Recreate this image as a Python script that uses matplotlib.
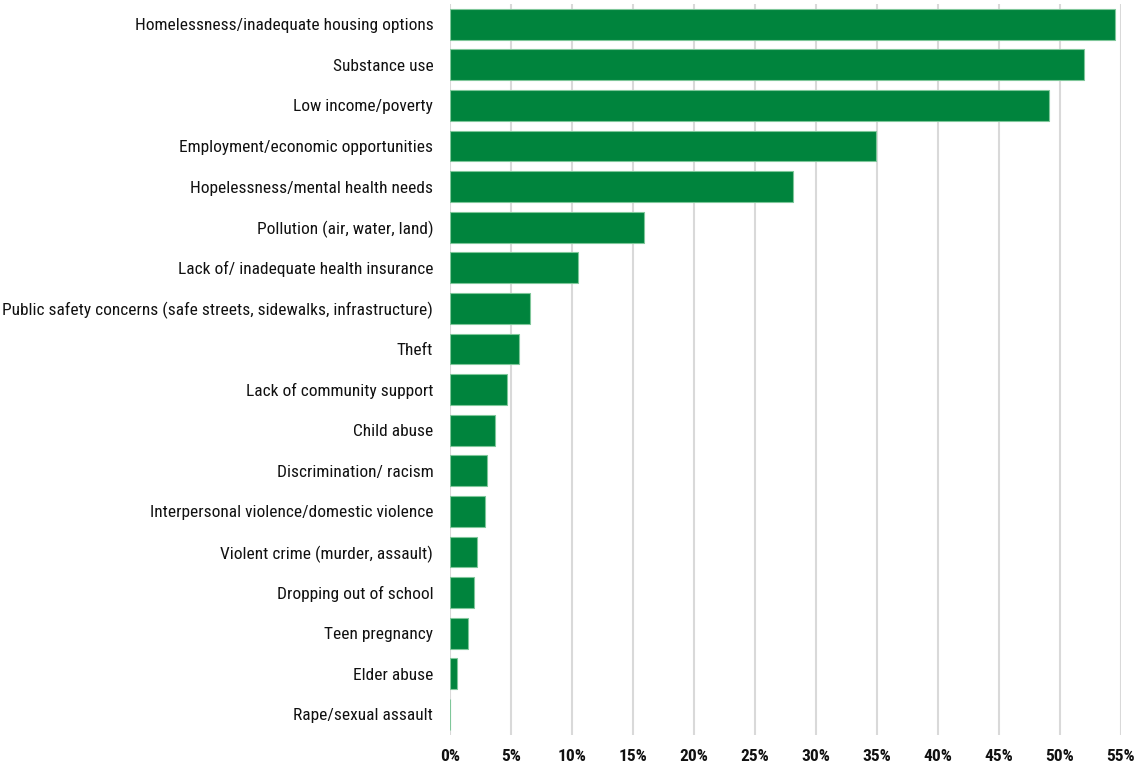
import numpy as np
import matplotlib.pyplot as plt

plt.rcParams['font.family'] = ['Roboto Condensed', 'DejaVu Sans']

categories = [
    "Homelessness/inadequate housing options",
    "Substance use",
    "Low income/poverty",
    "Employment/economic opportunities",
    "Hopelessness/mental health needs",
    "Pollution (air, water, land)",
    "Lack of/ inadequate health insurance",
    "Public safety concerns (safe streets, sidewalks, infrastructure)",
    "Theft",
    "Lack of community support",
    "Child abuse",
    "Discrimination/ racism",
    "Interpersonal violence/domestic violence",
    "Violent crime (murder, assault)",
    "Dropping out of school",
    "Teen pregnancy",
    "Elder abuse",
    "Rape/sexual assault",
]
percent = [54.5, 52.0, 49.1, 34.9, 28.1, 15.9, 10.5, 6.55, 5.7, 4.7,
           3.7, 3.05, 2.9, 2.2, 2.0, 1.45, 0.6, 0.0]
xticks = list(range(0, 60, 5))

fig = plt.figure(figsize=(11.4, 7.67), dpi=100)
ax = fig.add_axes([0.3947, 0.042, 0.5886, 0.953])

y = np.arange(len(categories))
ax.barh(y, percent, height=0.76, color='#00843D', edgecolor='#7fc79a', linewidth=0.8, zorder=3)

ax.set_yticks(y)
ax.set_yticklabels(categories, fontsize=12.5, fontweight='normal')
ax.set_ylim(len(categories) - 0.5, -0.5)

ax.set_xlim(0, 55)
ax.set_xticks(xticks)
ax.set_xticklabels([f"{t}%" for t in xticks], fontsize=12.5, fontweight='bold')
ax.grid(axis='x', color='#d9d9d9', linewidth=1.5, zorder=0)

for s in ax.spines.values():
    s.set_visible(False)
ax.tick_params(axis='both', length=0, colors='#111111')
ax.tick_params(axis='y', pad=12)
ax.tick_params(axis='x', pad=10)

plt.savefig('out.png', dpi=100)
